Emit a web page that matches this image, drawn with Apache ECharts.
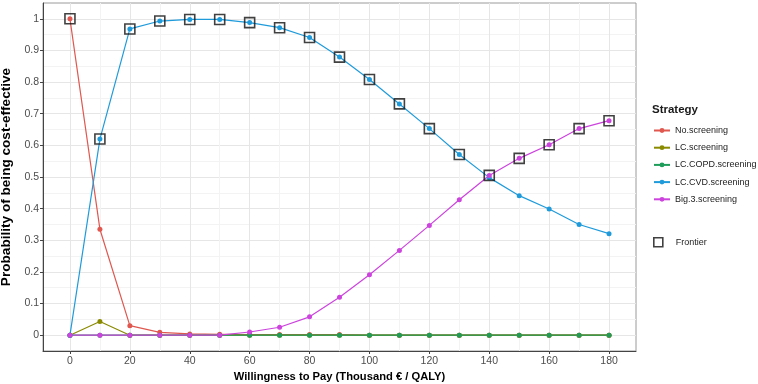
<!DOCTYPE html>
<html>
<head>
<meta charset="utf-8">
<script src="https://cdn.jsdelivr.net/npm/echarts@6/dist/echarts.min.js"></script>
<style>
  html, body { margin: 0; padding: 0; background: #fff; }
  #chart { width: 758px; height: 384px; }
</style>
</head>
<body>
<div id="chart"></div>
<script>
var wtp = [0, 10, 20, 30, 40, 50, 60, 70, 80, 90, 100, 110, 120, 130, 140, 150, 160, 170, 180];
var noScreening = [1, 0.335, 0.03, 0.009, 0.004, 0.003, 0.002, 0.002, 0.002, 0.002, 0, 0, 0, 0, 0, 0, 0, 0, 0];
var lcScreening = [0, 0.043, 0, 0, 0, 0, 0, 0, 0, 0, 0, 0, 0, 0, 0, 0, 0, 0, 0];
var lcCopdScreening = [0, 0, 0, 0, 0, 0, 0, 0, 0, 0, 0, 0, 0, 0, 0, 0, 0, 0, 0];
var lcCvdScreening = [0, 0.62, 0.968, 0.993, 0.998, 0.998, 0.988, 0.972, 0.941, 0.879, 0.808, 0.731, 0.653, 0.571, 0.498, 0.441, 0.399, 0.35, 0.321];
var big3Screening = [0, 0, 0, 0, 0, 0, 0.01, 0.025, 0.058, 0.12, 0.191, 0.268, 0.347, 0.428, 0.505, 0.559, 0.602, 0.653, 0.678];
// which strategy lies on the frontier at each wtp
var frontier = ['No.screening', 'LC.CVD.screening', 'LC.CVD.screening', 'LC.CVD.screening', 'LC.CVD.screening',
  'LC.CVD.screening', 'LC.CVD.screening', 'LC.CVD.screening', 'LC.CVD.screening', 'LC.CVD.screening',
  'LC.CVD.screening', 'LC.CVD.screening', 'LC.CVD.screening', 'LC.CVD.screening',
  'Big.3.screening', 'Big.3.screening', 'Big.3.screening', 'Big.3.screening', 'Big.3.screening'];
var xTicks = [0, 20, 40, 60, 80, 100, 120, 140, 160, 180];
var xMinor = [10, 30, 50, 70, 90, 110, 130, 150, 170];
var yTicks = [0, 0.1, 0.2, 0.3, 0.4, 0.5, 0.6, 0.7, 0.8, 0.9, 1];
var yMinor = [0.05, 0.15, 0.25, 0.35, 0.45, 0.55, 0.65, 0.75, 0.85, 0.95];

var strategies = [
  { name: 'No.screening', data: noScreening, color: '#E0574F' },
  { name: 'LC.screening', data: lcScreening, color: '#8A8A00' },
  { name: 'LC.COPD.screening', data: lcCopdScreening, color: '#1E9C5A' },
  { name: 'LC.CVD.screening', data: lcCvdScreening, color: '#1F9BDB' },
  { name: 'Big.3.screening', data: big3Screening, color: '#CC44DD' }
];
var byName = {};
strategies.forEach(function(s) { byName[s.name] = s.data; });

var font = 'Liberation Sans, Arial, sans-serif';
var gridMajor = '#e6e6e6';
var gridMinor = '#f3f3f3';

var series = strategies.map(function(s) {
  return {
    name: s.name,
    type: 'line',
    data: wtp.map(function(x, i) { return [x, s.data[i]]; }),
    symbol: 'circle',
    symbolSize: 5,
    color: s.color,
    lineStyle: { width: 1.2 },
    itemStyle: { color: s.color },
    emphasis: { disabled: true },
    animation: false
  };
});
series.push({
  name: 'Frontier',
  type: 'scatter',
  data: wtp.map(function(x, i) { return [x, byName[frontier[i]][i]]; }),
  symbol: 'rect',
  symbolSize: 10,
  itemStyle: { color: 'rgba(0,0,0,0)', borderColor: '#111', borderWidth: 1.6 },
  z: 5,
  animation: false
});

var chart = echarts.init(document.getElementById('chart'), null, { renderer: 'canvas' });
chart.setOption({
  backgroundColor: '#fff',
  animation: false,
  grid: {
    left: 43, top: 3, right: 122, bottom: 33, containLabel: false, outerBoundsMode: 'none',
    show: true, borderColor: '#9a9a9a', borderWidth: 1, backgroundColor: 'transparent'
  },
  title: {
    text: 'Strategy', left: 647, top: 99,
    textStyle: { fontFamily: font, fontSize: 11.5, fontWeight: 'bold', color: '#1a1a1a' }
  },
  legend: [{
    orient: 'vertical', left: 648, top: 121,
    itemGap: 8.2, itemWidth: 16, itemHeight: 6,
    data: strategies.map(function(s) { return s.name; }),
    textStyle: { fontFamily: font, fontSize: 9, color: '#222' }
  }, {
    orient: 'vertical', left: 648, top: 232,
    itemWidth: 9, itemHeight: 9,
    data: [{ name: 'Frontier', icon: 'rect', itemStyle: { color: 'rgba(0,0,0,0)', borderColor: '#111', borderWidth: 1.6 } }],
    textStyle: { fontFamily: font, fontSize: 9, color: '#222', padding: [0, 0, 0, 8] }
  }],
  xAxis: [{
    type: 'value', min: -9, max: 189,
    name: 'Willingness to Pay (Thousand \u20ac / QALY)',
    nameLocation: 'middle', nameGap: 19,
    nameTextStyle: { fontFamily: font, fontSize: 11.2, fontWeight: 'bold', color: '#000' },
    axisLine: { show: true, onZero: false, lineStyle: { color: '#444', width: 1 } },
    axisTick: { show: true, length: 3, customValues: xTicks, lineStyle: { color: '#444' } },
    axisLabel: { customValues: xTicks, fontFamily: font, fontSize: 10.5, color: '#4d4d4d', margin: 5 },
    splitLine: { show: true, lineStyle: { color: gridMajor, width: 1 } }
  }, {
    type: 'value', min: -9, max: 189, position: 'bottom',
    axisLine: { show: false },
    axisTick: { show: false, customValues: xMinor },
    axisLabel: { show: false, customValues: xMinor },
    splitLine: { show: true, lineStyle: { color: gridMinor, width: 1 } }
  }],
  yAxis: [{
    type: 'value', min: -0.05, max: 1.05,
    name: 'Probability of being cost-effective',
    nameLocation: 'middle', nameGap: 25, nameRotate: 90,
    nameTextStyle: { fontFamily: font, fontSize: 13.6, fontWeight: 'bold', color: '#000' },
    axisLine: { show: true, onZero: false, lineStyle: { color: '#444', width: 1 } },
    axisTick: { show: true, length: 3, customValues: yTicks, lineStyle: { color: '#444' } },
    axisLabel: {
      customValues: yTicks, fontFamily: font, fontSize: 10.5, color: '#4d4d4d', margin: 4,
      formatter: function(v) { return String(Math.round(v * 10) / 10); }
    },
    splitLine: { show: true, lineStyle: { color: gridMajor, width: 1 } }
  }, {
    type: 'value', min: -0.05, max: 1.05, position: 'left',
    axisLine: { show: false },
    axisTick: { show: false, customValues: yMinor },
    axisLabel: { show: false, customValues: yMinor },
    splitLine: { show: true, lineStyle: { color: gridMinor, width: 1 } }
  }],
  series: series
});
</script>
</body>
</html>
